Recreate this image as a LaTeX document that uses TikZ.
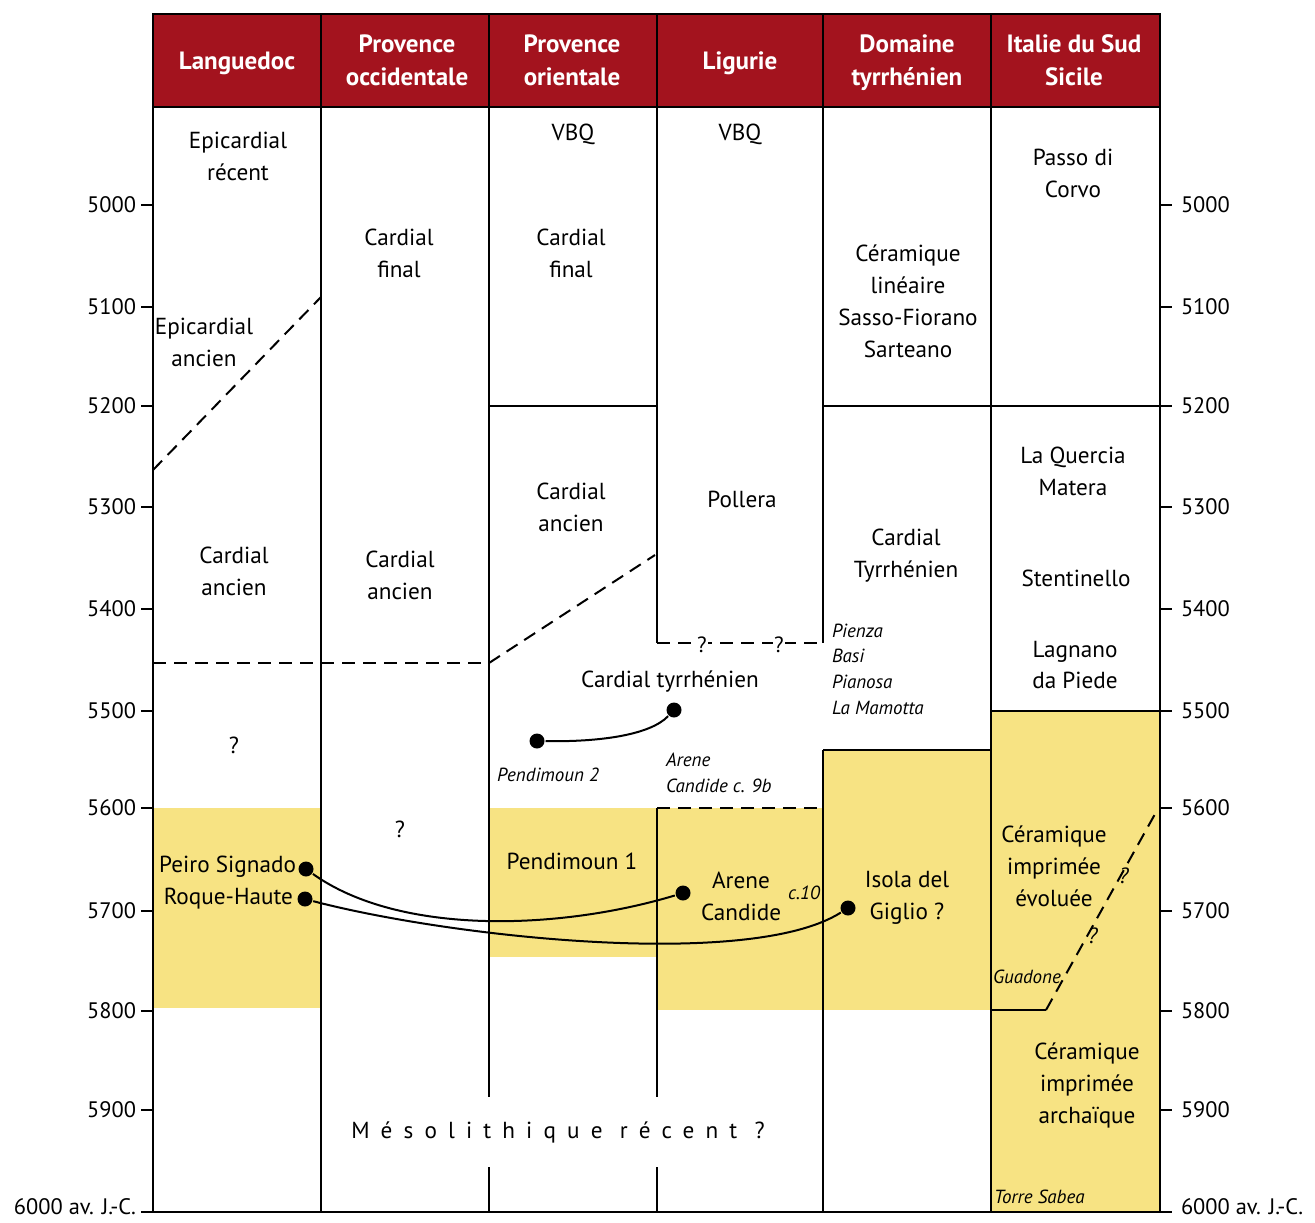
\documentclass[tikz,border=0pt]{standalone}
\usepackage{fontspec}
\setmainfont{PT Sans}
\usetikzlibrary{calc}
\definecolor{bordeaux}{RGB}{163,19,30}
\definecolor{ocre}{RGB}{247,227,131}
\tikzset{
  head/.style={text=white,font=\bfseries\fontsize{12.5}{16.5}\selectfont,align=center},
  cult/.style={font=\fontsize{11.6}{16}\selectfont,align=center},
  site/.style={font=\itshape\fontsize{9.5}{12.8}\selectfont,align=left,inner sep=0pt},
  yr/.style={font=\fontsize{11.2}{14}\selectfont,inner sep=0pt},
  dot/.style={circle,fill=black,inner sep=0pt,minimum size=7.5pt},
  tiret/.style={dash pattern=on 6.5pt off 4pt},
  qm/.style={inner sep=0.8pt,font=\fontsize{11}{12}\selectfont},
}
% tick + year label on both sides of the chart
\newcommand{\tikzYearTick}[3]{
  \draw (141,#2) -- (153,#2);
  \draw (1160,#2) -- (1172,#2);
  \node[yr,anchor=east] (l#1) at (137,#3) {#1};
  \node[yr,anchor=west] (r#1) at (1180,#3) {#1};
}

\begin{document}
\begin{tikzpicture}[x=0.5pt,y=-0.5pt,line width=1pt]
  \useasboundingbox (0,0) rectangle (1315,1222);

  % coloured blocks
  \fill[bordeaux] (153,14) rectangle (1160,107);
  \fill[ocre] (153,808) rectangle (321,1008);
  \fill[ocre] (489,808) rectangle (657,957);
  \fill[ocre] (657,808) rectangle (823,1010);
  \fill[ocre] (823,750) rectangle (991,1010);
  \fill[ocre] (991,711) rectangle (1160,1212);

  % columns
  \draw (321,14) -- (321,1212);
  \draw (489,14) -- (489,1212);
  \draw (657,14) -- (657,643);
  \draw (657,808) -- (657,1212);
  \draw (823,14) -- (823,643);
  \draw (823,750) -- (823,1212);
  \draw (991,14) -- (991,1212);
  \draw (153,107) -- (1160,107);

  % limits
  \draw (489,406) -- (657,406);
  \draw (823,406) -- (1160,406);
  \draw (823,750) -- (991,750);
  \draw (991,711) -- (1160,711);
  \draw[tiret] (153,470) -- (321,297);
  \draw[tiret] (153,663) -- (489,663);
  \draw[tiret] (489,663) -- (655,555);
  \draw[tiret] (657,643) -- (823,643);
  \draw[tiret] (657,808) -- (823,808);
  \draw (991,1010) -- (1046,1010);
  \draw[tiret] (1046,1010) -- (1155,814);
  \node[qm,fill=white] (q1) at (702,645) {?};
  \node[qm,fill=white] (q2) at (779,645) {?};
  \node[qm,font=\itshape\fontsize{11}{12}\selectfont] (q3) at (1124,876) {?};
  \node[qm,font=\itshape\fontsize{11}{12}\selectfont] (q4) at (1093,936) {?};

  \draw[line width=1.3pt] (153,14) rectangle (1160,1212);

  % headers
  \node[head] (langue) at (237,63) {Languedoc};
  \node[head] (provocc) at (407,60) {Provence\\occidentale};
  \node[head] (provor) at (572,60) {Provence\\orientale};
  \node[head] (ligur) at (740,63) {Ligurie};
  \node[head] (tyrrh) at (907,63) {Domaine\\tyrrhénien};
  \node[head] (italie) at (1074,60) {Italie du Sud\\Sicile};

  % years
  \tikzYearTick{5000}{205}{205}
  \tikzYearTick{5100}{307}{307}
  \tikzYearTick{5200}{406}{406}
  \tikzYearTick{5300}{507}{507}
  \tikzYearTick{5400}{609}{609}
  \tikzYearTick{5500}{711}{711}
  \tikzYearTick{5600}{808}{808}
  \tikzYearTick{5700}{911}{911}
  \tikzYearTick{5800}{1011}{1011}
  \tikzYearTick{5900}{1110}{1110}
  \tikzYearTick{6000 av. J.-C.}{1212}{1207}

  % cultures
  \node[cult] (epirec) at (238,156) {Epicardial\\récent};
  \node[cult] (epianc) at (204,342) {Epicardial\\ancien};
  \node[cult] (cardlg) at (234,571) {Cardial\\ancien};
  \node[cult] (qlg) at (234,745) {?};
  \node[cult] (cardfo) at (399,253) {Cardial\\final};
  \node[cult] (cardao) at (400,575) {Cardial\\ancien};
  \node[cult] (qpo) at (400,829) {?};
  \node[cult] (vbqor) at (573,134) {VBQ};
  \node[cult] (cardfr) at (571,253) {Cardial\\final};
  \node[cult] (cardar) at (571,507) {Cardial\\ancien};
  \node[cult] (vbqli) at (740,134) {VBQ};
  \node[cult] (poll) at (742,499) {Pollera};
  \node[cult] (cardty) at (670,682) {Cardial tyrrhénien};
  \node[cult] (lineaire) at (908,301) {Céramique\\linéaire\\Sasso-Fiorano\\Sarteano};
  \node[cult] (cardtyr) at (906,556) {Cardial\\Tyrrhénien};
  \node[cult] (passo) at (1073,173) {Passo di\\Corvo};
  \node[cult] (quercia) at (1073,471) {La Quercia\\Matera};
  \node[cult] (stent) at (1076,578) {Stentinello};
  \node[cult] (lagnano) at (1075,665) {Lagnano\\da Piede};
  \node[cult] (pend1) at (572,861) {Pendimoun 1};
  \node[cult] (arene) at (741,896) {Arene\\Candide};
  \node[cult] (isola) at (907,898) {Isola del\\Giglio ?};
  \node[cult] (evol) at (1054,866) {Céramique\\imprimée\\évoluée};
  \node[cult] (archa) at (1087,1085) {Céramique\\imprimée\\archaïque};
  \node[cult,anchor=east,inner sep=0pt] (peiro) at (297,867) {Peiro Signado};
  \node[cult,anchor=east,inner sep=0pt] (roque) at (294,899) {Roque-Haute};
  \node[cult,fill=white,inner xsep=0pt,minimum height=35pt,
        font=\fontsize{11.6}{16}\selectfont\addfontfeature{LetterSpace=48}]
        (meso) at (558,1132) {Mésolithique récent ?};

  % sites
  \node[site,anchor=west] (pienza) at (831,669) {Pienza\\Basi\\Pianosa\\La Mamotta};
  \node[site,anchor=west] (pend2) at (496,775) {Pendimoun 2};
  \node[site,anchor=west] (ac9b) at (665,773) {Arene\\Candide c. 9b};
  \node[site] (c10) at (804,893) {c.10};
  \node[site,anchor=west] (guad) at (992,977) {Guadone};
  \node[site,anchor=west] (torre) at (993,1197) {Torre Sabea};

  % links
  \node[dot] (dpend2) at (537,741) {};
  \node[dot] (dcardty) at (674,710) {};
  \node[dot] (dpeiro) at (306,869) {};
  \node[dot] (droque) at (305,899) {};
  \node[dot] (darene) at (683,893) {};
  \node[dot] (disola) at (848,908) {};
  \draw (dpend2) .. controls (600,742) and (650,735) .. (dcardty);
  \draw (dpeiro) .. controls (400,936) and (560,930) .. (darene);
  \draw (droque) .. controls (450,937) and (750,970) .. (disola);
\end{tikzpicture}
\end{document}
